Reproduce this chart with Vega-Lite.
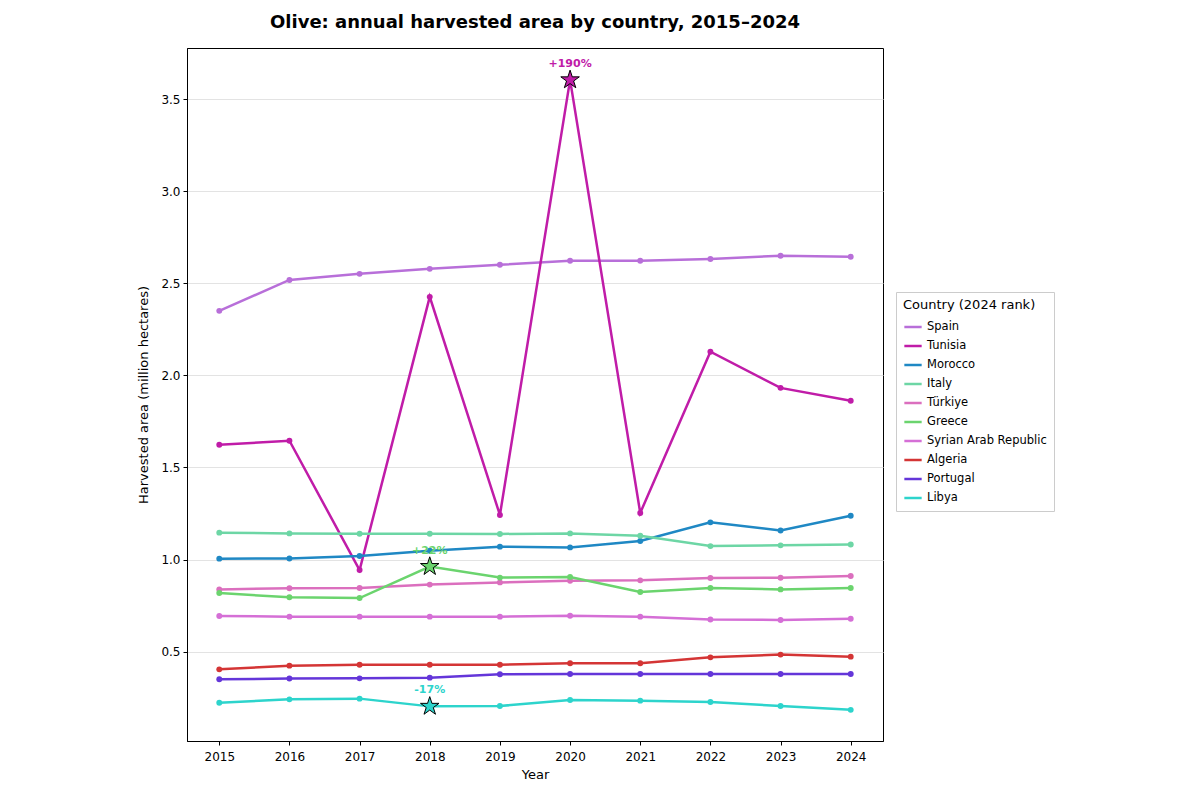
{
  "$schema": "https://vega.github.io/schema/vega-lite/v6.json",
  "width": 696,
  "height": 693,
  "padding": {"left": 137, "top": 14, "right": 5, "bottom": 5},
  "title": {"text": "Olive: annual harvested area by country, 2015–2024", "font": "DejaVu Sans", "fontSize": 18, "fontWeight": "bold", "color": "black", "anchor": "middle", "offset": 16},
  "config": {
    "view": {"stroke": "black", "strokeWidth": 1},
    "axis": {"labelFont": "DejaVu Sans", "titleFont": "DejaVu Sans", "labelFontSize": 12, "titleFontSize": 13, "titleFontWeight": "normal", "labelColor": "black", "titleColor": "black", "tickColor": "black", "domainColor": "black", "tickSize": 4},
    "legend": {"labelFont": "DejaVu Sans", "titleFont": "DejaVu Sans"}
  },
  "data": {"values": [
      {"country": "Spain", "year": 2015, "area": 2.350}, {"country": "Spain", "year": 2016, "area": 2.518}, {"country": "Spain", "year": 2017, "area": 2.551}, {"country": "Spain", "year": 2018, "area": 2.578}, {"country": "Spain", "year": 2019, "area": 2.600}, {"country": "Spain", "year": 2020, "area": 2.622}, {"country": "Spain", "year": 2021, "area": 2.622}, {"country": "Spain", "year": 2022, "area": 2.632}, {"country": "Spain", "year": 2023, "area": 2.649}, {"country": "Spain", "year": 2024, "area": 2.644},
      {"country": "Tunisia", "year": 2015, "area": 1.623}, {"country": "Tunisia", "year": 2016, "area": 1.645}, {"country": "Tunisia", "year": 2017, "area": 0.943}, {"country": "Tunisia", "year": 2018, "area": 2.426}, {"country": "Tunisia", "year": 2019, "area": 1.242}, {"country": "Tunisia", "year": 2020, "area": 3.604, "label": "+190%"}, {"country": "Tunisia", "year": 2021, "area": 1.253}, {"country": "Tunisia", "year": 2022, "area": 2.128}, {"country": "Tunisia", "year": 2023, "area": 1.932}, {"country": "Tunisia", "year": 2024, "area": 1.862},
      {"country": "Morocco", "year": 2015, "area": 1.005}, {"country": "Morocco", "year": 2016, "area": 1.006}, {"country": "Morocco", "year": 2017, "area": 1.019}, {"country": "Morocco", "year": 2018, "area": 1.048}, {"country": "Morocco", "year": 2019, "area": 1.070}, {"country": "Morocco", "year": 2020, "area": 1.066}, {"country": "Morocco", "year": 2021, "area": 1.101}, {"country": "Morocco", "year": 2022, "area": 1.202}, {"country": "Morocco", "year": 2023, "area": 1.158}, {"country": "Morocco", "year": 2024, "area": 1.238},
      {"country": "Italy", "year": 2015, "area": 1.146}, {"country": "Italy", "year": 2016, "area": 1.142}, {"country": "Italy", "year": 2017, "area": 1.140}, {"country": "Italy", "year": 2018, "area": 1.140}, {"country": "Italy", "year": 2019, "area": 1.139}, {"country": "Italy", "year": 2020, "area": 1.142}, {"country": "Italy", "year": 2021, "area": 1.129}, {"country": "Italy", "year": 2022, "area": 1.073}, {"country": "Italy", "year": 2023, "area": 1.077}, {"country": "Italy", "year": 2024, "area": 1.082},
      {"country": "Türkiye", "year": 2015, "area": 0.838}, {"country": "Türkiye", "year": 2016, "area": 0.844}, {"country": "Türkiye", "year": 2017, "area": 0.846}, {"country": "Türkiye", "year": 2018, "area": 0.864}, {"country": "Türkiye", "year": 2019, "area": 0.876}, {"country": "Türkiye", "year": 2020, "area": 0.885}, {"country": "Türkiye", "year": 2021, "area": 0.887}, {"country": "Türkiye", "year": 2022, "area": 0.900}, {"country": "Türkiye", "year": 2023, "area": 0.901}, {"country": "Türkiye", "year": 2024, "area": 0.911},
      {"country": "Greece", "year": 2015, "area": 0.818}, {"country": "Greece", "year": 2016, "area": 0.795}, {"country": "Greece", "year": 2017, "area": 0.791}, {"country": "Greece", "year": 2018, "area": 0.962, "label": "+22%"}, {"country": "Greece", "year": 2019, "area": 0.902}, {"country": "Greece", "year": 2020, "area": 0.905}, {"country": "Greece", "year": 2021, "area": 0.824}, {"country": "Greece", "year": 2022, "area": 0.846}, {"country": "Greece", "year": 2023, "area": 0.838}, {"country": "Greece", "year": 2024, "area": 0.846},
      {"country": "Syrian Arab Republic", "year": 2015, "area": 0.694}, {"country": "Syrian Arab Republic", "year": 2016, "area": 0.690}, {"country": "Syrian Arab Republic", "year": 2017, "area": 0.690}, {"country": "Syrian Arab Republic", "year": 2018, "area": 0.690}, {"country": "Syrian Arab Republic", "year": 2019, "area": 0.690}, {"country": "Syrian Arab Republic", "year": 2020, "area": 0.695}, {"country": "Syrian Arab Republic", "year": 2021, "area": 0.690}, {"country": "Syrian Arab Republic", "year": 2022, "area": 0.675}, {"country": "Syrian Arab Republic", "year": 2023, "area": 0.672}, {"country": "Syrian Arab Republic", "year": 2024, "area": 0.679},
      {"country": "Algeria", "year": 2015, "area": 0.404}, {"country": "Algeria", "year": 2016, "area": 0.424}, {"country": "Algeria", "year": 2017, "area": 0.429}, {"country": "Algeria", "year": 2018, "area": 0.429}, {"country": "Algeria", "year": 2019, "area": 0.429}, {"country": "Algeria", "year": 2020, "area": 0.437}, {"country": "Algeria", "year": 2021, "area": 0.437}, {"country": "Algeria", "year": 2022, "area": 0.469}, {"country": "Algeria", "year": 2023, "area": 0.484}, {"country": "Algeria", "year": 2024, "area": 0.473},
      {"country": "Portugal", "year": 2015, "area": 0.350}, {"country": "Portugal", "year": 2016, "area": 0.354}, {"country": "Portugal", "year": 2017, "area": 0.355}, {"country": "Portugal", "year": 2018, "area": 0.359}, {"country": "Portugal", "year": 2019, "area": 0.377}, {"country": "Portugal", "year": 2020, "area": 0.379}, {"country": "Portugal", "year": 2021, "area": 0.379}, {"country": "Portugal", "year": 2022, "area": 0.379}, {"country": "Portugal", "year": 2023, "area": 0.379}, {"country": "Portugal", "year": 2024, "area": 0.379},
      {"country": "Libya", "year": 2015, "area": 0.223}, {"country": "Libya", "year": 2016, "area": 0.241}, {"country": "Libya", "year": 2017, "area": 0.245}, {"country": "Libya", "year": 2018, "area": 0.203, "label": "-17%"}, {"country": "Libya", "year": 2019, "area": 0.205}, {"country": "Libya", "year": 2020, "area": 0.238}, {"country": "Libya", "year": 2021, "area": 0.234}, {"country": "Libya", "year": 2022, "area": 0.227}, {"country": "Libya", "year": 2023, "area": 0.205}, {"country": "Libya", "year": 2024, "area": 0.184}
  ]},
  "encoding": {
    "x": {"field": "year", "type": "quantitative", "title": "Year",
      "scale": {"domain": [2014.54, 2024.46], "nice": false, "zero": false},
      "axis": {"values": [2015, 2016, 2017, 2018, 2019, 2020, 2021, 2022, 2023, 2024], "format": "d", "grid": false, "titlePadding": 6, "labelPadding": 6}},
    "y": {"field": "area", "type": "quantitative", "title": "Harvested area (million hectares)",
      "scale": {"domain": [0.015, 3.777], "nice": false, "zero": false},
      "axis": {"values": [0.5, 1.0, 1.5, 2.0, 2.5, 3.0, 3.5], "format": ".1f", "grid": true, "gridColor": "#e3e3e3", "titlePadding": 10, "labelPadding": 3}},
    "color": {"field": "country", "type": "nominal", "title": "Country (2024 rank)",
      "scale": {"domain": ["Spain", "Tunisia", "Morocco", "Italy", "Türkiye", "Greece", "Syrian Arab Republic", "Algeria", "Portugal", "Libya"],
        "range": ["#b86fd9", "#c01ca8", "#1f88c4", "#6dd6a5", "#db6fbe", "#6bd46e", "#d56fd6", "#d43535", "#6436d9", "#2dd4cc"]},
      "legend": {"orient": "none", "legendX": 709, "legendY": 244, "strokeColor": "#cccccc", "fillColor": "white", "padding": 7, "titleFontSize": 13, "titleFontWeight": "normal", "titleColor": "black", "labelFontSize": 11.5, "labelColor": "black", "symbolType": "stroke", "symbolStrokeWidth": 2.5, "symbolSize": 300, "rowPadding": 3}}
  },
  "layer": [
    {"mark": {"type": "line", "strokeWidth": 2.5}},
    {"mark": {"type": "point", "filled": true, "size": 35, "opacity": 1}},
    {"transform": [{"filter": {"field": "label", "oneOf": ["+190%", "+22%", "-17%"]}}],
      "mark": {"type": "point", "shape": "M0,-1L0.2245,-0.309L0.951,-0.309L0.363,0.118L0.588,0.809L0,0.382L-0.588,0.809L-0.363,0.118L-0.951,-0.309L-0.2245,-0.309Z", "filled": true, "size": 380, "stroke": "black", "strokeWidth": 1, "opacity": 1}},
    {"transform": [{"filter": {"field": "label", "oneOf": ["+190%", "+22%", "-17%"]}}],
      "mark": {"type": "text", "dy": -16, "fontSize": 11, "fontWeight": "bold", "font": "DejaVu Sans"},
      "encoding": {"text": {"field": "label"}}}
  ]
}
